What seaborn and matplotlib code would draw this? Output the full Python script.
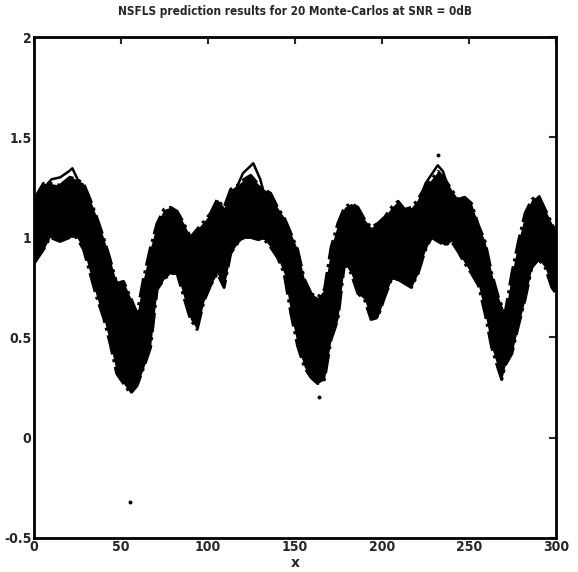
import matplotlib
matplotlib.use("Agg")
import matplotlib.pyplot as plt
import seaborn as sns
import pandas as pd

# true (noise-free) series
true_x = [0, 5, 10, 15, 20, 22, 25, 30, 35, 40, 45, 50, 55, 60, 65, 70, 75, 80, 85, 90,
          95, 100, 105, 110, 115, 120, 126, 130, 135, 140, 145, 150, 155, 160, 165, 170,
          175, 180, 185, 190, 195, 200, 205, 210, 215, 220, 225, 232, 235, 240, 245, 250,
          255, 260, 265, 270, 275, 280, 285, 290, 295, 300]
true_y = [0.88, 1.24, 1.29, 1.30, 1.33, 1.345, 1.29, 1.17, 1.05, 0.92, 0.75, 0.55, 0.40,
          0.32, 0.44, 0.72, 0.95, 1.02, 0.98, 0.86, 0.85, 0.95, 1.03, 1.10, 1.22, 1.32,
          1.37, 1.29, 1.12, 1.00, 0.85, 0.68, 0.52, 0.42, 0.38, 0.55, 0.85, 1.02, 1.06,
          1.00, 0.88, 0.88, 0.98, 1.05, 1.08, 1.15, 1.27, 1.36, 1.33, 1.20, 1.08, 0.98,
          0.85, 0.68, 0.48, 0.38, 0.55, 0.85, 1.02, 1.05, 0.98, 0.92]

# spread of the 20 Monte-Carlo predictions (upper / lower envelope)
mc_x = [0, 5.4, 9.2, 14.9, 20.6, 24.5, 28.4, 32.2, 36, 39.9, 43.7, 47.5, 51.4, 55.4, 59.2,
        63, 66.9, 70.7, 74.6, 78.4, 82.2, 86.1, 89.9, 93.7, 97.6, 101.4, 105.3, 109.2, 113,
        116.9, 120.7, 124.5, 128.4, 132.2, 136, 139.9, 143.7, 147.6, 151.4, 155.4, 159.2,
        163, 166.9, 170.7, 174.6, 178.4, 182.2, 186.1, 189.9, 193.7, 197.6, 201.4, 205.4,
        209.2, 213, 216.9, 220.7, 224.6, 228.4, 232.2, 236.1, 239.9, 243.7, 247.5, 251.4,
        255.4, 259.2, 263, 266.9, 268.8, 270.7, 274.6, 278.4, 282.2, 286.1, 289.9, 293.7,
        297.6, 300]
mc_upper = [1.19, 1.27, 1.27, 1.26, 1.30, 1.29, 1.27, 1.19, 1.10, 1.00, 0.89, 0.77, 0.78,
            0.70, 0.62, 0.80, 0.95, 1.07, 1.14, 1.15, 1.13, 1.07, 1.00, 1.04, 1.08, 1.12,
            1.19, 1.15, 1.24, 1.26, 1.29, 1.31, 1.27, 1.24, 1.22, 1.15, 1.10, 1.02, 0.94,
            0.79, 0.72, 0.70, 0.74, 0.95, 1.07, 1.15, 1.17, 1.15, 1.09, 1.05, 1.07, 1.10,
            1.15, 1.18, 1.14, 1.15, 1.19, 1.25, 1.29, 1.33, 1.29, 1.24, 1.19, 1.20, 1.17,
            1.06, 0.98, 0.82, 0.70, 0.66, 0.62, 0.82, 0.98, 1.12, 1.19, 1.21, 1.14, 1.07,
            1.02]
mc_lower = [0.87, 0.94, 1.00, 0.98, 1.00, 1.00, 0.94, 0.82, 0.70, 0.60, 0.47, 0.32, 0.27,
            0.22, 0.26, 0.35, 0.45, 0.74, 0.79, 0.82, 0.82, 0.70, 0.59, 0.54, 0.68, 0.76,
            0.82, 0.75, 0.92, 0.97, 1.00, 1.00, 0.99, 0.99, 0.95, 0.90, 0.82, 0.62, 0.46,
            0.35, 0.30, 0.27, 0.29, 0.49, 0.59, 0.87, 0.82, 0.72, 0.69, 0.59, 0.60, 0.70,
            0.79, 0.79, 0.77, 0.75, 0.82, 0.93, 1.00, 0.98, 0.96, 0.98, 0.93, 0.87, 0.82,
            0.76, 0.62, 0.45, 0.34, 0.29, 0.36, 0.42, 0.56, 0.69, 0.85, 0.89, 0.85, 0.75,
            0.72]

# isolated prediction samples outside the main spread
stray_x = [55, 163.5, 232]
stray_y = [-0.32, 0.205, 1.41]

title = "NSFLS prediction results for 20 Monte-Carlos at SNR = 0dB"
xticks = [0, 50, 100, 150, 200, 250, 300]
yticks = [-0.5, 0, 0.5, 1, 1.5, 2]
ytick_labels = ["-0.5", "0", "0.5", "1", "1.5", "2"]

sns.set_style("white")
plt.rcParams["font.family"] = ["DejaVu Sans"]
plt.rcParams["font.weight"] = "bold"

fig = plt.figure(figsize=(5.78, 5.72), dpi=100)
ax = fig.add_axes([0.059, 0.060, 0.903, 0.875])

df_true = pd.DataFrame({"x": true_x, "y": true_y})
df_mc = pd.DataFrame({"x": mc_x, "upper": mc_upper, "lower": mc_lower})

ax.fill_between(df_mc["x"], df_mc["lower"], df_mc["upper"], color="black", lw=0)
sns.lineplot(data=df_mc, x="x", y="upper", ax=ax, color="black", lw=2.2,
             linestyle="-.", estimator=None, sort=False)
sns.lineplot(data=df_mc, x="x", y="lower", ax=ax, color="black", lw=2.2,
             linestyle="-.", estimator=None, sort=False)
sns.lineplot(data=df_true, x="x", y="y", ax=ax, color="black", lw=1.8,
             estimator=None, sort=False)
sns.scatterplot(x=stray_x, y=stray_y, ax=ax, color="black", s=8, linewidth=0)

ax.set_xlim(0, 300)
ax.set_ylim(-0.5, 2)
ax.set_xticks(xticks)
ax.set_xticklabels([str(v) for v in xticks], fontsize=10, fontweight="bold",
                   fontstretch="condensed")
ax.set_yticks(yticks)
ax.set_yticklabels(ytick_labels, fontsize=10, fontweight="bold",
                   fontstretch="condensed")
ax.tick_params(direction="in", length=5, width=1.5, top=True, right=True, pad=2)
for s in ax.spines.values():
    s.set_linewidth(2)
    s.set_color("black")
ax.set_xlabel("x", fontsize=10, fontweight="bold", labelpad=1)
ax.set_ylabel("")
ax.set_title(title, fontsize=8.5, fontweight="bold", fontstretch="condensed", pad=16)

fig.savefig("out.png", dpi=100)
